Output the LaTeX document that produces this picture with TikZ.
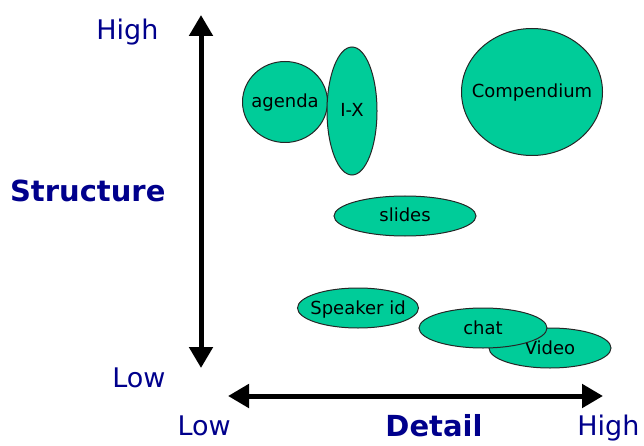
\documentclass[tikz,border=0pt]{standalone}
\usepackage{fontspec}
\setmainfont{DejaVu Sans}
\usetikzlibrary{shapes.geometric,arrows.meta}

\definecolor{blobgreen}{RGB}{0,204,153}
\definecolor{axisblue}{RGB}{0,0,140}

\tikzset{
	blob/.style = {ellipse, draw = black!85, line width = 1pt, fill = blobgreen, inner sep = 0pt},
	blobtext/.style = {anchor = base, yshift = -6pt, font = \fontsize{18}{20}\selectfont},
	axislabel/.style = {text = axisblue, font = \fontsize{27}{30}\selectfont},
	axistitle/.style = {text = axisblue, font = \fontsize{29}{30}\selectfont\bfseries},
	axis/.style = {line width = 5pt, {Triangle[width=23pt,length=21pt]}-{Triangle[width=23pt,length=21pt]}}
}

\begin{document}
\begin{tikzpicture}[x = 1pt, y = -1pt]
	%	canvas
	\useasboundingbox (0, 0) rectangle (644, 446);
	
	%	axes
	\coordinate (ytop) at (201, 15);
	\coordinate (ybot) at (201, 368);
	\coordinate (xleft) at (228, 396);
	\coordinate (xright) at (603, 396);
	\draw[axis] (ytop) -- (ybot);
	\draw[axis] (xleft) -- (xright);
	
	%	axis labels
	\node[axislabel, anchor = base east] (yhigh) at (162, 40) {High};
	\node[axistitle, anchor = base east] (ytitle) at (169, 202) {Structure};
	\node[axislabel, anchor = base east] (ylow) at (169, 387) {Low};
	\node[axislabel, anchor = base west] (xlow) at (174, 435) {Low};
	\node[axistitle, anchor = base] (xtitle) at (434, 436) {Detail};
	\node[axislabel, anchor = base east] (xhigh) at (643, 435) {High};
	
	%	tools
	\node[blob, minimum width = 85pt, minimum height = 81pt] (agenda) at (285, 102) {};
	\node[blobtext] (agendatext) at (agenda) {agenda};
	
	\node[blob, minimum width = 50pt, minimum height = 128pt] (ix) at (352, 111) {};
	\node[blobtext] (ixtext) at (ix) {I-X};
	
	\node[blob, minimum width = 141pt, minimum height = 127pt] (compendium) at (532, 92) {};
	\node[blobtext] (compendiumtext) at (compendium) {Compendium};
	
	\node[blob, minimum width = 142pt, minimum height = 40pt] (slides) at (405, 216) {};
	\node[blobtext] (slidestext) at (slides) {slides};
	
	\node[blob, minimum width = 121pt, minimum height = 40pt] (speaker) at (358, 308) {};
	\node[blobtext] (speakertext) at (speaker) {Speaker id};
	
	\node[blob, minimum width = 122pt, minimum height = 40pt] (video) at (550, 348) {};
	\node[blobtext] (videotext) at (video) {Video};
	
	\node[blob, minimum width = 128pt, minimum height = 40pt] (chat) at (483, 328) {};
	\node[blobtext] (chattext) at (chat) {chat};
\end{tikzpicture}
\end{document}
